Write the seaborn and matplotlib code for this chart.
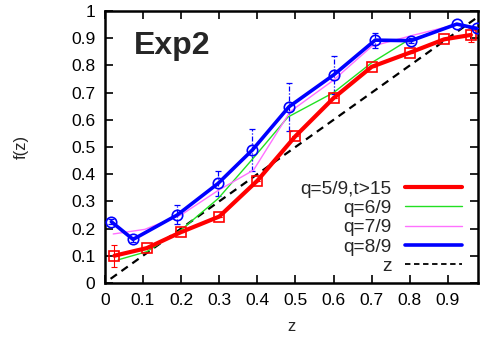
import numpy as np
import pandas as pd
import matplotlib
matplotlib.use("Agg")
import matplotlib.pyplot as plt
import seaborn as sns
from matplotlib.lines import Line2D

# ---- data ----
red_z = [0.025, 0.11, 0.2, 0.3, 0.4, 0.5, 0.6, 0.7, 0.8, 0.89, 0.96]
red_f = [0.10, 0.128, 0.187, 0.244, 0.376, 0.54, 0.68, 0.795, 0.847, 0.896, 0.912]
red_err = [0.04, 0.0, 0.0, 0.0, 0.0, 0.0, 0.0, 0.0, 0.0, 0.0, 0.025]

green_z = [0.035, 0.11, 0.2, 0.297, 0.39, 0.48, 0.6, 0.70, 0.79, 0.92, 0.975]
green_f = [0.085, 0.115, 0.195, 0.31, 0.46, 0.61, 0.70, 0.81, 0.888, 0.95, 0.94]

mag_z = [0.022, 0.105, 0.2, 0.297, 0.39, 0.486, 0.6, 0.70, 0.80, 0.92, 0.975]
mag_f = [0.18, 0.197, 0.25, 0.34, 0.415, 0.63, 0.746, 0.87, 0.908, 0.95, 0.94]

blue_z = [0.017, 0.074, 0.19, 0.297, 0.387, 0.483, 0.60, 0.709, 0.803, 0.923, 0.975]
blue_f = [0.225, 0.16, 0.25, 0.366, 0.489, 0.648, 0.765, 0.893, 0.891, 0.952, 0.936]
blue_err = [0.01, 0.01, 0.035, 0.045, 0.077, 0.089, 0.07, 0.028, 0.01, 0.0, 0.0]

diag_z = [0.015, 1.0]

labels = ["q=5/9,t>15", "q=6/9", "q=7/9", "q=8/9", "z"]
xticks = [0, 0.1, 0.2, 0.3, 0.4, 0.5, 0.6, 0.7, 0.8, 0.9]
yticks = [0, 0.1, 0.2, 0.3, 0.4, 0.5, 0.6, 0.7, 0.8, 0.9, 1]

sns.set_style("ticks")
plt.rcParams["font.family"] = ["Liberation Sans", "DejaVu Sans"]

fig = plt.figure(figsize=(4.81, 3.45), dpi=100)
ax = fig.add_axes([0.218, 0.18, 0.776, 0.788])

RED = "#ff0000"
GREEN = "#22e022"
MAG = "#ff70ff"
BLUE = "#0000ff"

# diagonal
sns.lineplot(x=diag_z, y=diag_z, ax=ax, color="black", lw=1.6,
             linestyle=(0, (3.5, 2.5)), zorder=2)
# error bars
ax.errorbar(red_z, red_f, yerr=red_err, fmt="none", ecolor=RED, elinewidth=0.8,
            capsize=2.5, capthick=0.8, zorder=3)
eb = ax.errorbar(blue_z, blue_f, yerr=blue_err, fmt="none", ecolor=BLUE,
                 elinewidth=0.9, capsize=2.5, capthick=0.9, zorder=3)
for c in eb[2]:
    c.set_linestyle((0, (4, 1.5, 1, 1.5)))

sns.lineplot(x=green_z, y=green_f, ax=ax, color=GREEN, lw=1.0, zorder=4)
sns.lineplot(x=mag_z, y=mag_f, ax=ax, color=MAG, lw=1.0, zorder=4)
sns.lineplot(x=red_z, y=red_f, ax=ax, color=RED, lw=3.0, marker="s",
             markersize=7, markerfacecolor="none", markeredgecolor=RED,
             markeredgewidth=1.2, zorder=5)
sns.lineplot(x=blue_z, y=blue_f, ax=ax, color=BLUE, lw=2.6, marker="o",
             markersize=7.5, markerfacecolor="none", markeredgecolor=BLUE,
             markeredgewidth=1.2, zorder=6)

ax.set_xlim(0, 0.979)
ax.set_ylim(0, 1)
ax.set_xticks(xticks)
ax.set_yticks(yticks)
ax.set_xticklabels([f"{t:g}" for t in xticks])
ax.set_yticklabels([f"{t:g}" for t in yticks])
ax.tick_params(direction="in", length=6, width=1.2, top=True, right=True,
               labelsize=12.5, pad=7, colors="black")
for s in ax.spines.values():
    s.set_visible(True)
    s.set_linewidth(1.8)
    s.set_color("black")
ax.set_xlabel("z", fontsize=12, labelpad=8)
ax.set_ylabel("f(z)", fontsize=12, labelpad=30)

ax.text(0.078, 0.925, "Exp2", transform=ax.transAxes, fontsize=23,
        fontweight="bold", va="top", ha="left")

handles = [
    Line2D([], [], color=RED, lw=3.0),
    Line2D([], [], color=GREEN, lw=1.0),
    Line2D([], [], color=MAG, lw=1.0),
    Line2D([], [], color=BLUE, lw=2.6),
    Line2D([], [], color="black", lw=1.3, linestyle=(0, (3, 2))),
]
ax.legend(handles, labels, loc="lower right", bbox_to_anchor=(0.994, -0.02),
          frameon=False, markerfirst=False, fontsize=13.8, handlelength=3.0,
          handletextpad=0.7, labelspacing=0.1, borderpad=0.2)

fig.savefig("out.png", dpi=100)
